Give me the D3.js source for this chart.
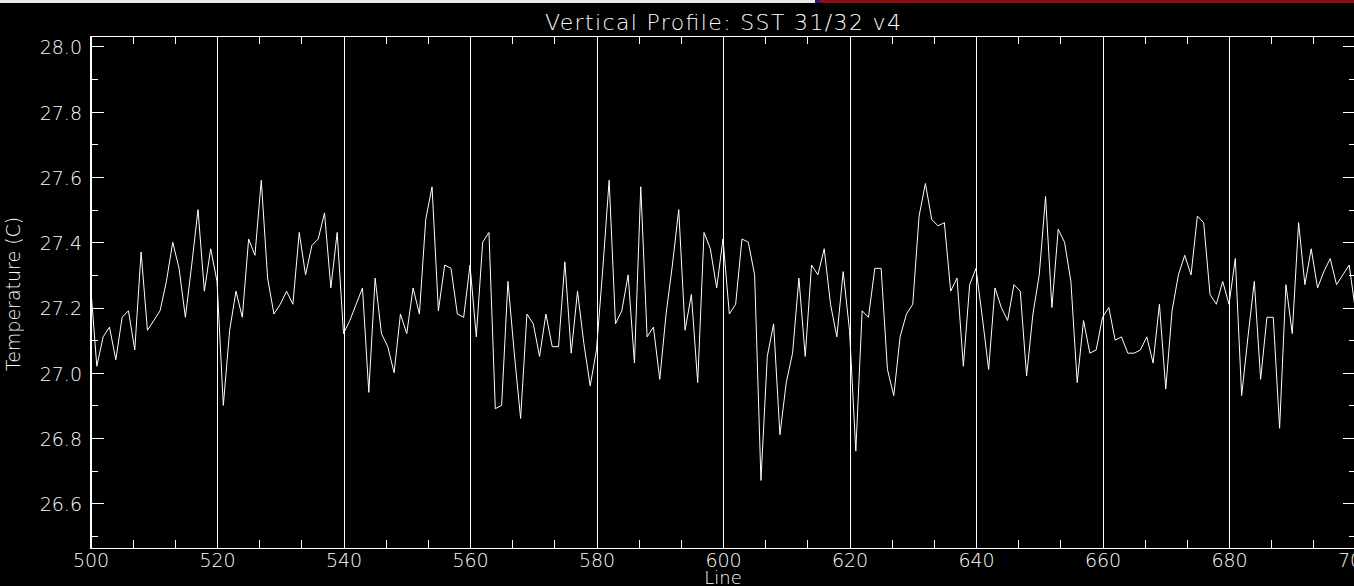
<!DOCTYPE html>
<html><head><meta charset="utf-8">
<script src="https://cdn.jsdelivr.net/npm/d3@7"></script>
<style>
html,body{margin:0;padding:0;background:#000;overflow:hidden}
svg{display:block}
text{font-family:"DejaVu Sans",sans-serif;fill:#fff;font-weight:200}
.lbl{opacity:0.99}
</style></head><body>
<svg id="c" width="1354" height="586"></svg>
<script>
const title = "Vertical Profile: SST 31/32 v4";
const xLabel = "Line";
const yLabel = "Temperature (C)";
const firstLine = 500;
const sst = [
 27.27,27.02,27.11,27.14,27.04,27.17,27.19,27.07,27.37,27.13,
 27.16,27.19,27.28,27.40,27.32,27.17,27.33,27.50,27.25,27.38,
 27.28,26.90,27.13,27.25,27.17,27.41,27.36,27.59,27.29,27.18,
 27.21,27.25,27.21,27.43,27.30,27.39,27.41,27.49,27.26,27.43,
 27.12,27.16,27.21,27.26,26.94,27.29,27.12,27.08,27.00,27.18,
 27.12,27.26,27.18,27.47,27.57,27.19,27.33,27.32,27.18,27.17,
 27.33,27.11,27.40,27.43,26.89,26.90,27.28,27.06,26.86,27.18,
 27.15,27.05,27.18,27.08,27.08,27.34,27.06,27.25,27.09,26.96,
 27.07,27.32,27.59,27.15,27.19,27.30,27.03,27.57,27.11,27.14,
 26.98,27.18,27.33,27.50,27.13,27.24,26.97,27.43,27.38,27.26,
 27.41,27.18,27.21,27.41,27.40,27.30,26.67,27.05,27.15,26.81,
 26.97,27.06,27.29,27.05,27.33,27.30,27.38,27.21,27.11,27.31,
 27.13,26.76,27.19,27.17,27.32,27.32,27.01,26.93,27.11,27.18,
 27.21,27.48,27.58,27.47,27.45,27.46,27.25,27.29,27.02,27.27,
 27.32,27.17,27.01,27.26,27.20,27.16,27.27,27.25,26.99,27.18,
 27.30,27.54,27.20,27.44,27.40,27.28,26.97,27.16,27.06,27.07,
 27.17,27.20,27.10,27.11,27.06,27.06,27.07,27.11,27.03,27.21,
 26.95,27.19,27.30,27.36,27.30,27.48,27.46,27.24,27.21,27.28,
 27.21,27.35,26.93,27.11,27.28,26.98,27.17,27.17,26.83,27.27,
 27.12,27.46,27.27,27.38,27.26,27.31,27.35,27.27,27.30,27.33,
 27.19
];
const xTickValues = [500,520,540,560,580,600,620,640,660,680,700];
const xTickLabels = ["500","520","540","560","580","600","620","640","660","680","700"];
const xMinorPerMajor = 3;
const yTickValues = [26.6,26.8,27.0,27.2,27.4,27.6,27.8,28.0];
const yTickLabels = ["26.6","26.8","27.0","27.2","27.4","27.6","27.8","28.0"];
const yMinorValues = [26.5,26.7,26.9,27.1,27.3,27.5,27.7,27.9];
const xDomain = [500,700];
const yDomain = [26.463,28.032];

const W = 1354, H = 586;
const L = 90.5, R = 1355.5, T = 36, B = 548;
const svg = d3.select("#c");
svg.append("rect").attr("width",W).attr("height",H).attr("fill","#000");

// window strip at top
svg.append("rect").attr("x",0).attr("y",0).attr("width",815).attr("height",3).attr("fill","#e9e9e9");
svg.append("rect").attr("x",815).attr("y",0).attr("width",5).attr("height",3).attr("fill","#1c1c80");
svg.append("rect").attr("x",820).attr("y",0).attr("width",W-820).attr("height",3).attr("fill","#950a0a");

const x = d3.scaleLinear().domain(xDomain).range([L,R]);
const y = d3.scaleLinear().domain(yDomain).range([B,T]);

const xMinor = [];
for (let i = 0; i < xTickValues.length-1; i++) {
  const a = xTickValues[i], b = xTickValues[i+1];
  for (let k = 1; k < xMinorPerMajor; k++) xMinor.push(a + (b-a)*k/xMinorPerMajor);
}

const g = svg.append("g").attr("color","#fff");

// bottom axis with full-height major ticks (grid)
const xb = g.append("g").attr("transform",`translate(0,${B})`)
  .call(d3.axisBottom(x).tickValues(xTickValues).tickFormat((d,i)=>xTickLabels[i])
    .tickSize(-(B-T)).tickSizeOuter(0).tickPadding(5.5));
xb.selectAll("text").attr("font-size",19).attr("font-family","DejaVu Sans").attr("fill","#fff").attr("class","lbl");
g.append("g").attr("transform",`translate(0,${B})`)
  .call(d3.axisBottom(x).tickValues(xMinor).tickFormat("").tickSize(-8).tickSizeOuter(0));
g.append("g").attr("transform",`translate(0,${T})`)
  .call(d3.axisTop(x).tickValues(xMinor).tickFormat("").tickSize(-8).tickSizeOuter(0));

// left axis
const yl = g.append("g").attr("transform",`translate(${L},0)`)
  .call(d3.axisLeft(y).tickValues(yTickValues).tickFormat((d,i)=>yTickLabels[i])
    .tickSize(-13).tickSizeOuter(0).tickPadding(8.5));
yl.selectAll("text").attr("font-size",19).attr("font-family","DejaVu Sans").attr("dy","0.39em").attr("fill","#fff").attr("class","lbl");
g.append("g").attr("transform",`translate(${L},0)`)
  .call(d3.axisLeft(y).tickValues(yMinorValues).tickFormat("").tickSize(-7).tickSizeOuter(0));
// right axis
g.append("g").attr("transform",`translate(${R},0)`)
  .call(d3.axisRight(y).tickValues(yTickValues).tickFormat("").tickSize(-13).tickSizeOuter(0));
g.append("g").attr("transform",`translate(${R},0)`)
  .call(d3.axisRight(y).tickValues(yMinorValues).tickFormat("").tickSize(-7).tickSizeOuter(0));

g.selectAll(".domain").remove();
g.selectAll("line").attr("stroke","#fff").attr("shape-rendering","crispEdges");

// frame
svg.append("rect").attr("x",L).attr("y",T).attr("width",R-L).attr("height",B-T)
  .attr("fill","none").attr("stroke","#fff").attr("shape-rendering","crispEdges");

// data line
const line = d3.line().x((d,i)=>x(firstLine+i)).y(d=>y(d));
svg.append("path").datum(sst).attr("d",line).attr("fill","none")
  .attr("stroke","#fff").attr("stroke-width",1);

// titles
svg.append("text").attr("class","lbl").attr("x",(L+R)/2).attr("y",29.5).attr("text-anchor","middle")
  .attr("font-size",22).attr("textLength",356).attr("lengthAdjust","spacing").text(title);
svg.append("text").attr("class","lbl").attr("x",(L+R)/2).attr("y",584).attr("text-anchor","middle")
  .attr("font-size",18).text(xLabel);
svg.append("text").attr("class","lbl").attr("transform","translate(19.5,294) rotate(-90)").attr("text-anchor","middle")
  .attr("font-size",19).text(yLabel);
</script>
</body></html>
